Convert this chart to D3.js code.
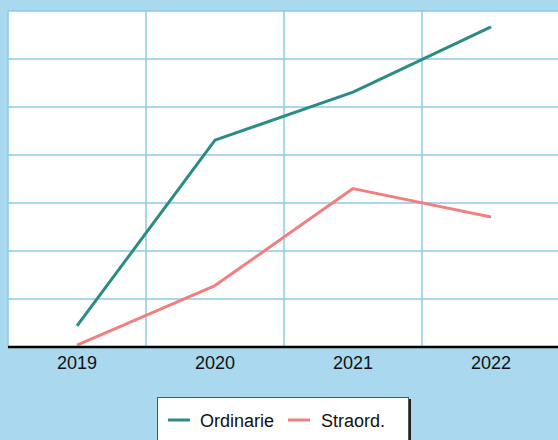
<!DOCTYPE html>
<html><head><meta charset="utf-8">
<script src="https://cdn.jsdelivr.net/npm/d3@7"></script>
<style>html,body{margin:0;padding:0;background:#a9d8ef;overflow:hidden}</style>
</head><body>
<script>
const categories = ["2019","2020","2021","2022"];
const ordinarie = [4.4, 43.1, 53.1, 66.7];
const straord = [0.4, 12.8, 33.0, 27.1];
const yTicks = [0,10,20,30,40,50,60,70];
const seriesNames = ["Ordinarie","Straord."];
const colors = ["#2a8c84","#f08080"];

const W=558,H=440;
const svg=d3.select("body").append("svg").attr("width",W).attr("height",H);
svg.append("rect").attr("width",W).attr("height",H).attr("fill","#a9d8ef");
const pL=8,pR=560,pT=11,pB=347;
const x=d3.scaleBand().domain(categories).range([pL,pR]).padding(0);
const y=d3.scaleLinear().domain([0,70]).range([pB,pT]);

svg.append("rect").attr("x",pL).attr("y",pT).attr("width",pR-pL).attr("height",pB-pT).attr("fill","#fff");
// horizontal grid
svg.append("g").selectAll("line").data(yTicks).join("line")
  .attr("x1",pL).attr("x2",pR).attr("y1",d=>y(d)).attr("y2",d=>y(d))
  .attr("stroke","#8dcbe9").attr("stroke-width",1.5);
// vertical grid at band boundaries
svg.append("g").selectAll("line").data(categories).join("line")
  .attr("x1",d=>x(d)).attr("x2",d=>x(d)).attr("y1",pT).attr("y2",pB)
  .attr("stroke","#8dcbe9").attr("stroke-width",1.5);

const line=d3.line().x((d,i)=>x(categories[i])+x.bandwidth()/2).y(d=>y(d));
[ordinarie,straord].forEach((s,i)=>{
  svg.append("path").datum(s).attr("d",line).attr("fill","none")
    .attr("stroke",colors[i]).attr("stroke-width",3).attr("stroke-linejoin","round");
});

// x axis
const xAxis=svg.append("g").attr("transform",`translate(0,${pB})`).call(d3.axisBottom(x).tickSize(0).tickPadding(9));
xAxis.select(".domain").attr("stroke","#000").attr("stroke-width",2.5).attr("d",`M${pL},0H${W}`);
xAxis.selectAll("text").attr("font-family","'Liberation Sans',Arial,sans-serif").attr("font-size",18).attr("fill","#111");

// legend
const lg=svg.append("g");
lg.append("rect").attr("x",159).attr("y",399).attr("width",252).attr("height",60).attr("fill","#222");
lg.append("rect").attr("x",157.5).attr("y",397.5).attr("width",251).attr("height",60).attr("fill","#fff").attr("stroke","#555").attr("stroke-width",1);
const items=[{x:168,tx:200},{x:288,tx:321}];
items.forEach((it,i)=>{
  lg.append("line").attr("x1",it.x).attr("x2",it.x+22).attr("y1",420).attr("y2",420).attr("stroke",colors[i]).attr("stroke-width",3);
  lg.append("text").attr("x",it.tx).attr("y",426.5).text(seriesNames[i])
    .attr("font-family","'Liberation Sans',Arial,sans-serif").attr("font-size",18).attr("fill","#111");
});
</script>
</body></html>
